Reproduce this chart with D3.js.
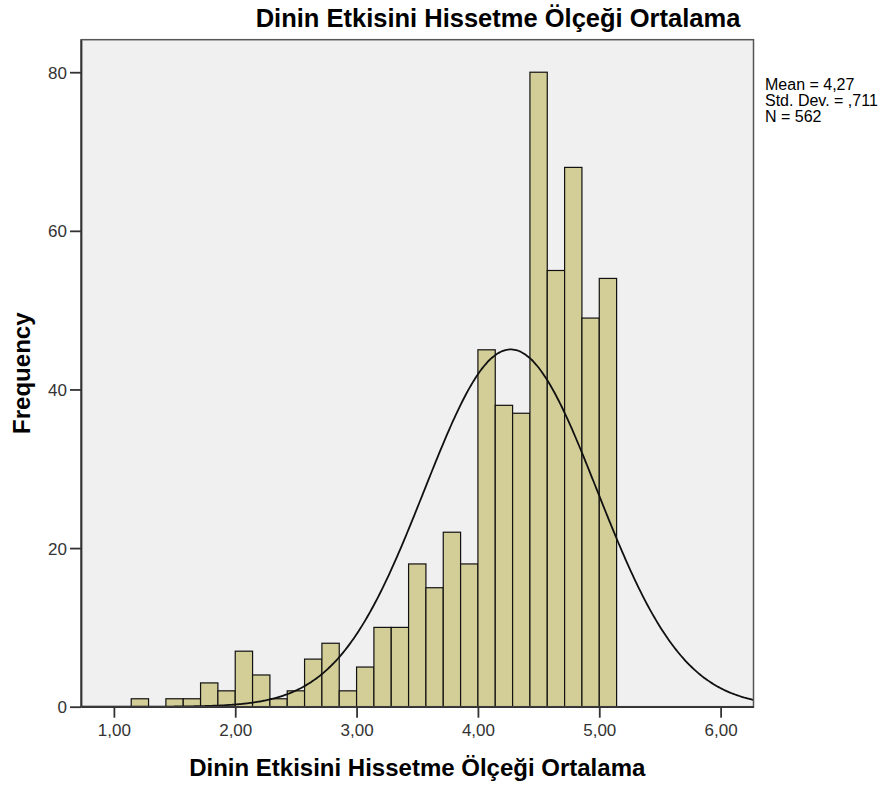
<!DOCTYPE html>
<html>
<head>
<meta charset="utf-8">
<script src="https://cdn.jsdelivr.net/npm/d3@7"></script>
<style>
  html, body { margin: 0; padding: 0; background: #ffffff; }
  svg { display: block; font-family: "Liberation Sans", Arial, sans-serif; }
</style>
</head>
<body>
<svg id="chart" width="891" height="787"></svg>
<script>
// ---- data ----
const chartTitle = "Dinin Etkisini Hissetme Ölçeği Ortalama";
const xAxisTitle = "Dinin Etkisini Hissetme Ölçeği Ortalama";
const yAxisTitle = "Frequency";
const binWidth = 1 / 7;
const firstBinStart = 8 / 7;
const counts = [1, 0, 1, 1, 3, 2, 7, 4, 1, 2, 6, 8, 2, 5, 10, 10, 18, 15, 22, 18, 45, 38, 37, 80, 55, 68, 49, 54];
const xTicks = [1, 2, 3, 4, 5, 6];
const yTicks = [0, 20, 40, 60, 80];
const statMean = 4.27;
const statSD = 0.711;
const statN = 562;
const legendLines = ["Mean = 4,27", "Std. Dev. = ,711", "N = 562"];

// ---- layout ----
const plot = { left: 81, right: 753.5, top: 39.7, bottom: 706.7 };
const svg = d3.select("#chart");

const x = d3.scaleLinear().domain([0.729, 6.271]).range([plot.left, plot.right]);
const y = d3.scaleLinear().domain([0, 84.1]).range([plot.bottom, plot.top]);

const fmt = v => d3.format(".2f")(v).replace(".", ",");

// background
svg.append("rect")
  .attr("x", plot.left).attr("y", plot.top)
  .attr("width", plot.right - plot.left).attr("height", plot.bottom - plot.top)
  .attr("fill", "#f0f0f0");

svg.append("clipPath").attr("id", "clip")
  .append("rect")
  .attr("x", plot.left).attr("y", plot.top)
  .attr("width", plot.right - plot.left).attr("height", plot.bottom - plot.top);

// bars
const bins = counts.map((c, i) => ({ x0: firstBinStart + i * binWidth, x1: firstBinStart + (i + 1) * binWidth, c }));
svg.append("g").selectAll("rect")
  .data(bins.filter(d => d.c > 0))
  .join("rect")
  .attr("x", d => x(d.x0))
  .attr("y", d => y(d.c))
  .attr("width", d => x(d.x1) - x(d.x0))
  .attr("height", d => y(0) - y(d.c))
  .attr("fill", "#d3ce97")
  .attr("stroke", "#111")
  .attr("stroke-width", 1.2);

// normal curve
const curvePts = d3.range(0, 401).map(i => {
  const v = x.domain()[0] + (x.domain()[1] - x.domain()[0]) * i / 400;
  const z = (v - statMean) / statSD;
  const f = statN * binWidth * Math.exp(-0.5 * z * z) / (statSD * Math.sqrt(2 * Math.PI));
  return [v, f];
});
svg.append("path")
  .datum(curvePts)
  .attr("clip-path", "url(#clip)")
  .attr("fill", "none")
  .attr("stroke", "#111")
  .attr("stroke-width", 1.8)
  .attr("d", d3.line().x(d => x(d[0])).y(d => y(d[1])).curve(d3.curveBasis));

// frame
svg.append("rect")
  .attr("x", plot.left).attr("y", plot.top)
  .attr("width", plot.right - plot.left).attr("height", plot.bottom - plot.top)
  .attr("fill", "none").attr("stroke", "#555").attr("stroke-width", 1.5);

// axes
const xAxis = d3.axisBottom(x).tickValues(xTicks).tickFormat(fmt).tickSize(11).tickSizeOuter(0).tickPadding(6);
const gx = svg.append("g").attr("transform", `translate(0,${plot.bottom})`).call(xAxis);
const yAxis = d3.axisLeft(y).tickValues(yTicks).tickSize(11).tickSizeOuter(0).tickPadding(3);
const gy = svg.append("g").attr("transform", `translate(${plot.left},0)`).call(yAxis);
[gx, gy].forEach(g => {
  g.select(".domain").attr("stroke", "#333").attr("stroke-width", 1.8);
  g.selectAll(".tick line").attr("stroke", "#333").attr("stroke-width", 1.8);
  g.selectAll(".tick text").attr("fill", "#333").style("font-size", "17px")
    .style("font-family", "'Liberation Sans', Arial, sans-serif");
});
gx.selectAll(".tick text").attr("dy", "0.71em");
gy.selectAll(".tick text").attr("dy", "0.36em");

// titles
svg.append("text")
  .attr("x", 498).attr("y", 27)
  .attr("text-anchor", "middle")
  .style("font-size", "25.5px").style("font-weight", "bold")
  .attr("fill", "#000")
  .text(chartTitle);

svg.append("text")
  .attr("x", (plot.left + plot.right) / 2).attr("y", 776)
  .attr("text-anchor", "middle")
  .style("font-size", "24px").style("font-weight", "bold")
  .attr("fill", "#000")
  .text(xAxisTitle);

svg.append("text")
  .attr("transform", `translate(30,${(plot.top + plot.bottom) / 2}) rotate(-90)`)
  .attr("text-anchor", "middle")
  .style("font-size", "24px").style("font-weight", "bold")
  .attr("fill", "#000")
  .text(yAxisTitle);

// legend
svg.append("g").selectAll("text")
  .data(legendLines)
  .join("text")
  .attr("x", 765)
  .attr("y", (d, i) => 90 + i * 16)
  .style("font-size", "16px")
  .attr("fill", "#000")
  .text(d => d);
</script>
</body>
</html>
